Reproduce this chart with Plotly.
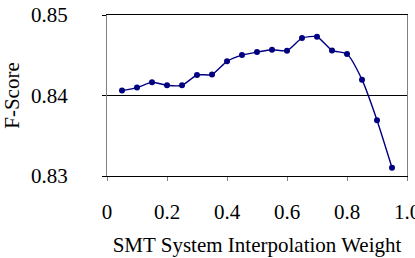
import plotly.graph_objects as go

weights = [0.05, 0.10, 0.15, 0.20, 0.25, 0.30, 0.35, 0.40, 0.45, 0.50,
           0.55, 0.60, 0.65, 0.70, 0.75, 0.80, 0.85, 0.90, 0.95]
fscore = [0.84061, 0.84098, 0.84164, 0.84127, 0.84127, 0.84255, 0.84260,
          0.84424, 0.84502, 0.84539, 0.84569, 0.84557, 0.84713, 0.84730,
          0.84560, 0.84515, 0.84197, 0.83693, 0.83103]

x_tickvals = [0, 0.2, 0.4, 0.6, 0.8, 1.0]
x_ticktext = ["0", "0.2", "0.4", "0.6", "0.8", "1.0"]
y_tickvals = [0.83, 0.84, 0.85]
y_ticktext = ["0.83", "0.84", "0.85"]

font = "Liberation Serif, Times New Roman, serif"
tf = dict(family=font, size=21, color="black")

fig = go.Figure()
fig.add_trace(go.Scatter(
    x=weights, y=fscore, mode="lines+markers",
    line=dict(color="#000080", width=1.4, shape="spline", smoothing=0.6),
    marker=dict(color="#000080", size=6),
    showlegend=False, cliponaxis=False,
))

fig.update_layout(
    width=415, height=258,
    margin=dict(l=107, r=8, t=15, b=82, autoexpand=False),
    paper_bgcolor="white", plot_bgcolor="white",
    font=tf,
)
fig.update_xaxes(
    automargin=False,
    range=[0, 1], tickvals=x_tickvals, ticktext=x_ticktext, tickfont=tf,
    showgrid=False, zeroline=False,
    showline=True, linecolor="black", linewidth=1, mirror=True,
    ticks="outside", ticklen=4, tickcolor="#808080",
    ticklabelstandoff=13, ticklabeloverflow="allow",
    title=dict(text="SMT System Interpolation Weight", font=tf, standoff=14),
)
fig.update_yaxes(
    automargin=False,
    range=[0.83, 0.85], tickvals=y_tickvals, ticktext=y_ticktext, tickfont=tf,
    showgrid=True, gridcolor="black", gridwidth=1, zeroline=False,
    showline=True, linecolor="#808080", linewidth=1, mirror=True,
    ticks="outside", ticklen=4, tickcolor="black",
    ticklabelstandoff=30,
    title=dict(text="F-Score", font=tf, standoff=26),
)

fig.write_html("out.html")
